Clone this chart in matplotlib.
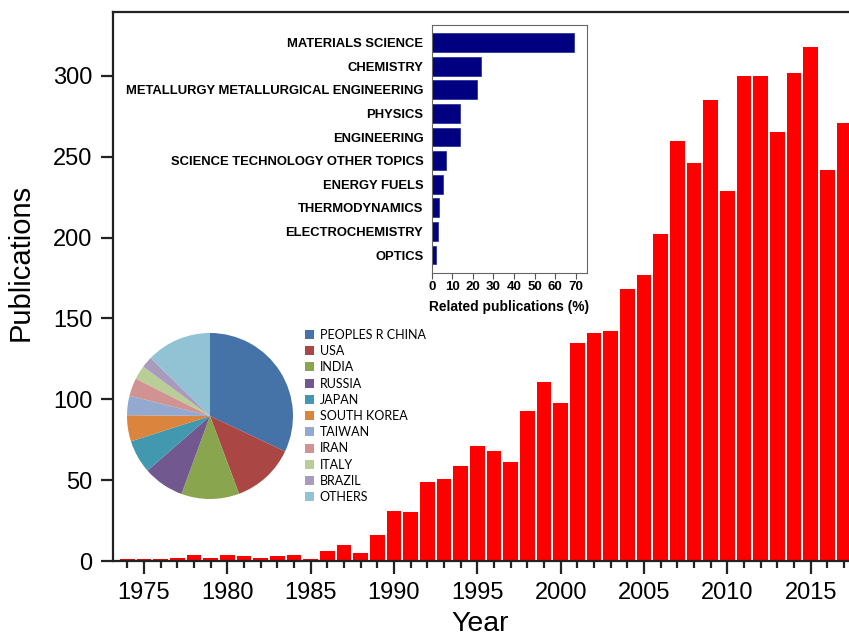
import numpy as np
import matplotlib.pyplot as plt
import matplotlib.ticker as ticker

plt.rcParams["font.family"] = ["Liberation Sans", "DejaVu Sans"]

# --- data ---
years = list(range(1974, 2018))
pubs = [1, 1, 1, 2, 4, 2, 4, 3, 2, 3, 4, 1, 6, 10, 5, 16,
        31, 30, 49, 51, 59, 71, 68, 61, 93, 111, 98, 135, 141, 142,
        168, 177, 202, 260, 246, 285, 229, 300, 300, 265, 302, 318, 242, 271]

fields = ["MATERIALS SCIENCE", "CHEMISTRY", "METALLURGY METALLURGICAL ENGINEERING",
          "PHYSICS", "ENGINEERING", "SCIENCE TECHNOLOGY OTHER TOPICS",
          "ENERGY FUELS", "THERMODYNAMICS", "ELECTROCHEMISTRY", "OPTICS"]
field_pct = [69.1, 23.9, 22.1, 13.9, 13.6, 6.8, 5.7, 3.6, 2.9, 1.9]

countries = ["PEOPLES R CHINA", "USA", "INDIA", "RUSSIA", "JAPAN", "SOUTH KOREA",
             "TAIWAN", "IRAN", "ITALY", "BRAZIL", "OTHERS"]
country_share = [32.1, 12.3, 11.3, 8.0, 6.5, 5.1, 3.8, 3.5, 2.7, 2.2, 12.7]
country_colors = ["#4572A7", "#AA4643", "#89A54E", "#71588F", "#4198AF", "#DB843D",
                  "#93A9CF", "#D19392", "#B9CD96", "#A99BBD", "#91C3D5"]

fig = plt.figure(figsize=(8.49, 6.37), dpi=100)

# --- main bar chart (runs off the right edge) ---
ax = fig.add_axes([113 / 849, 1 - 561 / 637, 1 - 113 / 849, (561 - 12) / 637])
ax.bar(years, pubs, width=0.87, color="#ff0000", linewidth=0)
ax.set_xlim(1973.14, 2017.3)
ax.set_ylim(0, 339.5)
ax.spines["right"].set_visible(False)
for s in ["left", "bottom", "top"]:
    ax.spines[s].set_linewidth(1.6)
    ax.spines[s].set_color("#222222")
ax.xaxis.set_major_locator(ticker.MultipleLocator(5))
ax.xaxis.set_minor_locator(ticker.MultipleLocator(1))
ax.yaxis.set_major_locator(ticker.MultipleLocator(50))
ax.tick_params(axis="both", which="major", direction="out", length=9, width=1.6,
               labelsize=17, pad=6, color="#222222")
ax.tick_params(axis="x", which="minor", direction="out", length=5, width=1.6,
               color="#222222")
ax.tick_params(axis="y", which="minor", left=False)
ax.set_xlabel("Year", fontsize=20.5)
ax.set_ylabel("Publications", fontsize=21)
ax.xaxis.set_label_coords((480 - 113) / (849 - 113), -0.091)
ax.yaxis.set_label_coords(-0.106, (561 - 262) / (561 - 12))

# --- inset: research fields ---
ax2 = fig.add_axes([431.7 / 849, 1 - 272.7 / 637, (586.7 - 431.7) / 849, (272.7 - 25) / 637])
ypos = np.arange(len(fields))
ax2.barh(ypos, field_pct, height=0.8, color="#000080", edgecolor="#1a2a9a", linewidth=0.5)
ax2.set_ylim(len(fields) - 0.25, -0.75)
ax2.set_xlim(0, 75.3)
ax2.set_yticks(ypos)
ax2.set_yticklabels(fields, fontsize=9.4, fontweight="bold")
ax2.set_xticks(range(0, 71, 10))
ax2.tick_params(axis="x", labelsize=9.5, length=4, width=0.8, pad=2, color="#555555")
for lab in ax2.get_xticklabels():
    lab.set_fontweight("bold")
ax2.tick_params(axis="y", length=0, pad=6)
for s in ax2.spines.values():
    s.set_linewidth(0.8)
    s.set_color("#666666")
ax2.set_xlabel("Related publications (%)", fontsize=9.9, fontweight="bold", labelpad=5)

# --- inset: countries pie ---
ax3 = fig.add_axes([127 / 849, 1 - 499 / 637, 166 / 849, 166 / 637])
wedges, _ = ax3.pie(country_share, colors=country_colors, startangle=90,
                    counterclock=False, radius=1.0)
ax3.set_xlim(-1, 1)
ax3.set_ylim(-1, 1)
leg = fig.legend(wedges, countries, loc="upper left",
                 bbox_to_anchor=(296 / 849, 1 - 320 / 637), frameon=False,
                 prop={"family": "Lato", "size": 9},
                 handlelength=0.75, handleheight=0.75, handletextpad=0.45,
                 labelspacing=0.34, borderpad=0.2)

plt.savefig("out.png", dpi=100)
